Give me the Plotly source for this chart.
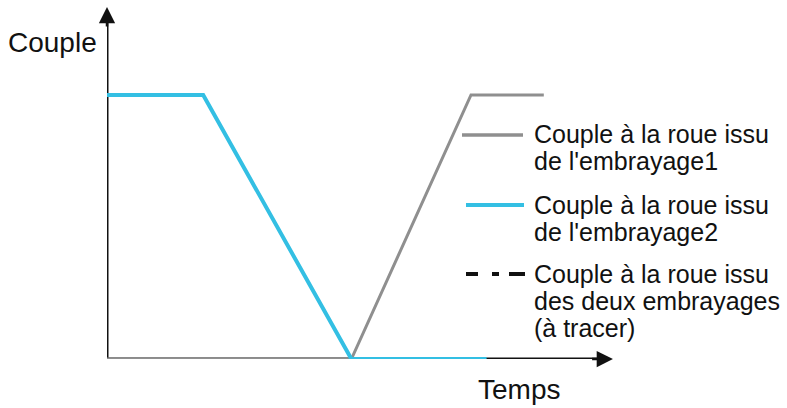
import plotly.graph_objects as go

# ---- data (arbitrary time / torque units) ----
t_emb2 = [0, 18.5, 47, 73]
c_emb2 = [75, 75, 0, 0]
t_emb1 = [0, 47, 70, 84]
c_emb1 = [0, 0, 75, 75]

y_label = "Couple"
x_label = "Temps"
legend_labels = [
    ["Couple à la roue issu", "de l'embrayage1"],
    ["Couple à la roue issu", "de l'embrayage2"],
    ["Couple à la roue issu", "des deux embrayages", "(à tracer)"],
]

W, H = 787, 408
L, R, T, B = 107, 160, 7, 49
PW, PH = W - L - R, H - T - B

def px(x):
    return (x - L) / PW

def py(y):
    return (H - B - y) / PH

GRAY = "#8f8f8f"
CYAN = "#33bfe3"
FONT = "Arial, Liberation Sans, sans-serif"

fig = go.Figure()
fig.add_trace(go.Scatter(x=t_emb1, y=c_emb1, mode="lines",
                         line=dict(color=GRAY, width=3), hoverinfo="skip"))
fig.add_trace(go.Scatter(x=t_emb2, y=c_emb2, mode="lines",
                         line=dict(color=CYAN, width=4), hoverinfo="skip"))

# axes lines (below traces)
fig.add_shape(type="line", xref="x", yref="y", x0=0, y0=0, x1=95.5, y1=0,
              line=dict(color="#111", width=3), layer="below")
fig.add_shape(type="line", xref="x", yref="y", x0=0, y0=0, x1=0, y1=96,
              line=dict(color="#111", width=3), layer="below")
# arrow heads
fig.add_annotation(x=97.3, y=0, ax=93, ay=0, xref="x", yref="y", axref="x", ayref="y",
                   showarrow=True, arrowhead=2, arrowsize=1.3, arrowwidth=2.5,
                   arrowcolor="#111", text="")
fig.add_annotation(x=0, y=100, ax=0, ay=94, xref="x", yref="y", axref="x", ayref="y",
                   showarrow=True, arrowhead=2, arrowsize=1.3, arrowwidth=2.5,
                   arrowcolor="#111", text="")

# axis titles
fig.add_annotation(x=px(6), y=py(42), xref="paper", yref="paper", text=y_label,
                   showarrow=False, xanchor="left", yanchor="middle",
                   font=dict(family=FONT, size=28, color="#111"))
fig.add_annotation(x=px(476), y=py(389), xref="paper", yref="paper", text=x_label,
                   showarrow=False, xanchor="left", yanchor="middle",
                   font=dict(family=FONT, size=28, color="#111"))

# legend samples
fig.add_shape(type="line", xref="paper", yref="paper", x0=px(462), x1=px(523),
              y0=py(135), y1=py(135), line=dict(color=GRAY, width=3.5))
fig.add_shape(type="line", xref="paper", yref="paper", x0=px(466), x1=px(524),
              y0=py(205), y1=py(205), line=dict(color=CYAN, width=4))
fig.add_shape(type="line", xref="paper", yref="paper", x0=px(466), x1=px(527),
              y0=py(274), y1=py(274),
              line=dict(color="#111", width=4, dash="12px,14px,7px,10px,16px"))

centers = [[134, 161], [205, 232], [274, 301, 328]]
for labels, ys in zip(legend_labels, centers):
    for txt, yc in zip(labels, ys):
        fig.add_annotation(x=px(532), y=py(yc), xref="paper", yref="paper", text=txt,
                           showarrow=False, xanchor="left", yanchor="middle",
                           font=dict(family=FONT, size=25, color="#111"))

fig.update_layout(
    width=W, height=H, margin=dict(l=L, r=R, t=T, b=B),
    paper_bgcolor="white", plot_bgcolor="white", showlegend=False,
    xaxis=dict(range=[0, 100], visible=False, fixedrange=True),
    yaxis=dict(range=[0, 100], visible=False, fixedrange=True),
)
fig.write_html("out.html", config={"displayModeBar": False},
               post_script="document.body.style.margin='0';document.body.style.overflow='hidden';")
